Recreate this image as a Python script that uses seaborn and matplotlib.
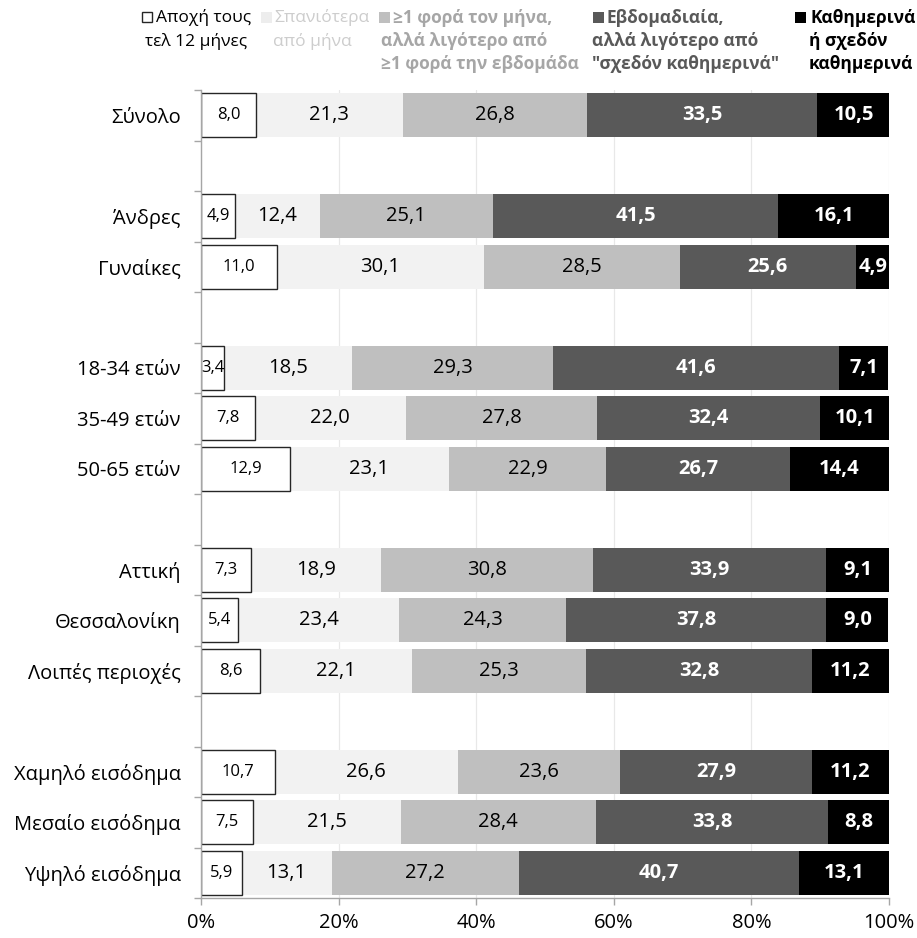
import matplotlib
matplotlib.use("Agg")
import matplotlib.pyplot as plt
from matplotlib.patches import Rectangle
from matplotlib.ticker import FixedLocator, PercentFormatter
import seaborn as sns
import pandas as pd
import numpy as np

# Survey groups and frequency shares (%)
groups = ["Σύνολο", "Άνδρες", "Γυναίκες", "18-34 ετών", "35-49 ετών", "50-65 ετών",
          "Αττική", "Θεσσαλονίκη", "Λοιπές περιοχές",
          "Χαμηλό εισόδημα", "Μεσαίο εισόδημα", "Υψηλό εισόδημα"]
abstain = [8.0, 4.9, 11.0, 3.4, 7.8, 12.9, 7.3, 5.4, 8.6, 10.7, 7.5, 5.9]
rarer = [21.3, 12.4, 30.1, 18.5, 22.0, 23.1, 18.9, 23.4, 22.1, 26.6, 21.5, 13.1]
monthly = [26.8, 25.1, 28.5, 29.3, 27.8, 22.9, 30.8, 24.3, 25.3, 23.6, 28.4, 27.2]
weekly = [33.5, 41.5, 25.6, 41.6, 32.4, 26.7, 33.9, 37.8, 32.8, 27.9, 33.8, 40.7]
daily = [10.5, 16.1, 4.9, 7.1, 10.1, 14.4, 9.1, 9.0, 11.2, 11.2, 8.8, 13.1]

# Row order with empty spacer rows between the breakdowns
row_order = ["Σύνολο", " ",
             "Άνδρες", "Γυναίκες", "  ",
             "18-34 ετών", "35-49 ετών", "50-65 ετών", "   ",
             "Αττική", "Θεσσαλονίκη", "Λοιπές περιοχές", "    ",
             "Χαμηλό εισόδημα", "Μεσαίο εισόδημα", "Υψηλό εισόδημα"]

series = [abstain, rarer, monthly, weekly, daily]
fills = ["#FFFFFF", "#F2F2F2", "#BFBFBF", "#595959", "#000000"]

df = pd.DataFrame({"group": groups})
vals = np.array(series)
cum = np.cumsum(vals, axis=0)
for i in range(len(series)):
    df[f"c{i}"] = cum[i]

sns.set_theme(style="white")
plt.rcParams["font.family"] = ["Open Sans", "DejaVu Sans"]

W, H = 917, 938
fig = plt.figure(figsize=(W / 100, H / 100), dpi=100)
ax = fig.add_axes([201 / W, 1 - 898 / H, (889 - 201) / W, (898 - 90) / H])

# Stacked bars: draw cumulative totals from the outermost layer inwards
bar_w = 0.87
for i in range(len(series) - 1, -1, -1):
    kw = dict(edgecolor="none", linewidth=0)
    if i == 0:
        kw = dict(edgecolor="#262626", linewidth=1.0)
    sns.barplot(data=df, x=f"c{i}", y="group", order=row_order, orient="h",
                color=fills[i], saturation=1, width=bar_w, ax=ax, zorder=2, **kw)

# Segment labels
for r, g in enumerate(groups):
    y = row_order.index(g)
    left = 0.0
    for i in range(len(series)):
        v = vals[i][r]
        xc = left + v / 2
        txt = f"{v:.1f}".replace(".", ",")
        if i == 0:
            ax.text(xc, y, txt, ha="center", va="center", fontsize=12, color="black", zorder=5)
        elif i <= 2:
            ax.text(xc, y, txt, ha="center", va="center", fontsize=14.5, color="black", zorder=5)
        else:
            ax.text(xc, y, txt, ha="center", va="center", fontsize=14.5, color="white",
                    fontweight="bold", zorder=5)
        left += v

ax.set_xlim(0, 100)
ax.set_ylim(len(row_order) - 0.5, -0.5)
ax.set_xlabel("")
ax.set_ylabel("")
ax.xaxis.set_major_locator(FixedLocator([0, 20, 40, 60, 80, 100]))
ax.xaxis.set_major_formatter(PercentFormatter(decimals=0))
ax.set_axisbelow(True)
ax.xaxis.grid(True, color="#E8E8E8", linewidth=0.9, zorder=0)
ax.yaxis.grid(False)

for s in ["top", "right"]:
    ax.spines[s].set_visible(False)
for s in ["left", "bottom"]:
    ax.spines[s].set_color("#A6A6A6")
    ax.spines[s].set_linewidth(1.0)

ax.tick_params(axis="x", which="major", length=5, width=1, color="#A6A6A6",
               labelsize=14.5, pad=6, bottom=True, labelcolor="black")
ax.tick_params(axis="y", which="major", length=0, labelsize=14.5, pad=14.5, labelcolor="black")
ax.yaxis.set_minor_locator(FixedLocator(np.arange(-0.5, len(row_order), 1.0)))
ax.tick_params(axis="y", which="minor", length=5, width=1, color="#A6A6A6", left=True)

# Legend drawn in figure pixels
def fx(x):
    return x / W


def fy(y):
    return 1 - y / H


legend = [
    dict(marker=(142, 12, 10), face="#FFFFFF", edge="#262626", color="black", weight="normal",
         lines=[(156, 18, "Αποχή τους"), (145, 41, "τελ 12 μήνες")]),
    dict(marker=(261, 12, 11), face="#EDEDED", edge="none", color="#CDCDCD", weight="normal",
         lines=[(274, 18, "Σπανιότερα"), (273, 41, "από μήνα")]),
    dict(marker=(379, 12, 11), face="#BFBFBF", edge="none", color="#A6A6A6", weight="bold",
         lines=[(393, 18, "≥1 φορά τον μήνα,"), (381, 41, "αλλά λιγότερο από"),
                (381, 64, "≥1 φορά την εβδομάδα")]),
    dict(marker=(593, 12, 11), face="#595959", edge="none", color="#595959", weight="bold",
         lines=[(607, 18, "Εβδομαδιαία,"), (592, 41, "αλλά λιγότερο από"),
                (592, 64, "\"σχεδόν καθημερινά\"")]),
    dict(marker=(795, 12, 11), face="#000000", edge="none", color="#000000", weight="bold",
         lines=[(810, 18, "Καθημερινά"), (809, 41, "ή σχεδόν"), (809, 64, "καθημερινά")]),
]
for item in legend:
    mx, my, ms = item["marker"]
    fig.patches.append(Rectangle((fx(mx), fy(my + ms)), ms / W, ms / H, transform=fig.transFigure,
                                 facecolor=item["face"], edgecolor=item["edge"], linewidth=1.0))
    for lx, ly, t in item["lines"]:
        fig.text(fx(lx), fy(ly), t, ha="left", va="center", fontsize=12.5,
                 color=item["color"], fontweight=item["weight"])

fig.savefig("out.png", dpi=100)
